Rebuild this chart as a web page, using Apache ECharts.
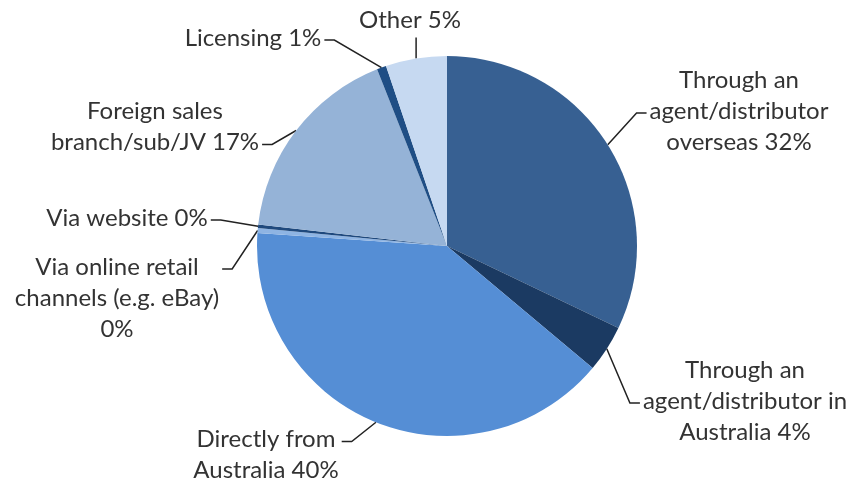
<!DOCTYPE html>
<html>
<head>
<meta charset="utf-8">
<script src="https://cdn.jsdelivr.net/npm/echarts@6/dist/echarts.min.js"></script>
<style>
  html, body { margin: 0; padding: 0; background: #fff; }
  #chart { width: 854px; height: 488px; }
</style>
</head>
<body>
<div id="chart"></div>
<script>
// channel names (line breaks as in the original labels)
const channels = [
  'Through an\nagent/distributor\noverseas',
  'Through an\nagent/distributor in\nAustralia',
  'Directly from\nAustralia',
  'Via online retail\nchannels (e.g. eBay)\n',
  'Via website',
  'Foreign sales\nbranch/sub/JV',
  'Licensing',
  'Other'
]
// share of exporters, percent
const shares = [32.1, 4.0, 40.0, 0.4, 0.3, 17.2, 0.8, 5.2]

const colors = ['#376092', '#1b3a62', '#558ed5', '#8eb4e3', '#1f497d', '#95b3d7', '#1f4e85', '#c6d9f1']

// label block centres (px) and where the leader line meets the label
const labelPos = [
  [739, 111],
  [745, 401],
  [266, 455],
  [117, 298],
  [127, 218],
  [155, 127],
  [253, 38],
  [410, 20]
]
const attach = [
  ['left', 1], ['left', 1], ['right', 0], ['right', 0],
  ['right', 0], ['right', 1], ['right', 0], ['bottom', 0]
]
const LINE_H = 31

const chart = echarts.init(document.getElementById('chart'))

chart.setOption({
  animation: false,
  series: [{
    type: 'pie',
    center: [447, 246],
    radius: 190,
    startAngle: 90,
    clockwise: true,
    avoidLabelOverlap: false,
    data: channels.map((name, i) => ({
      name,
      value: shares[i],
      itemStyle: { color: colors[i] }
    })),
    itemStyle: { borderWidth: 0 },
    label: {
      show: true,
      position: 'outside',
      formatter: p => p.name + (p.name.endsWith('\n') ? '' : ' ') + Math.round(p.value) + '%',
      fontFamily: 'Lato',
      fontSize: 24,
      lineHeight: LINE_H,
      color: '#333',
      align: 'center'
    },
    labelLine: {
      show: true,
      length: 20,
      length2: 10,
      lineStyle: { color: '#222', width: 1.5 }
    },
    labelLayout: params => {
      const i = params.dataIndex
      const [cx, cy] = labelPos[i]
      const w = params.labelRect.width
      const h = params.labelRect.height
      const top = cy - h / 2
      const start = params.labelLinePoints[0]
      const [side, line] = attach[i]
      let end, mid
      if (side === 'bottom') {
        end = [start[0], top + h + 2]
        mid = [start[0], top + h + 2]
      } else {
        const ly = top + LINE_H * (line + 0.5) + 2
        const ex = side === 'left' ? cx - w / 2 - 3 : cx + w / 2 + 3
        end = [ex, ly]
        mid = [side === 'left' ? ex - 10 : ex + 10, ly]
      }
      return {
        x: cx,
        y: cy,
        align: 'center',
        verticalAlign: 'middle',
        labelLinePoints: [start, mid, end]
      }
    },
    emphasis: { disabled: true }
  }]
})
</script>
</body>
</html>
